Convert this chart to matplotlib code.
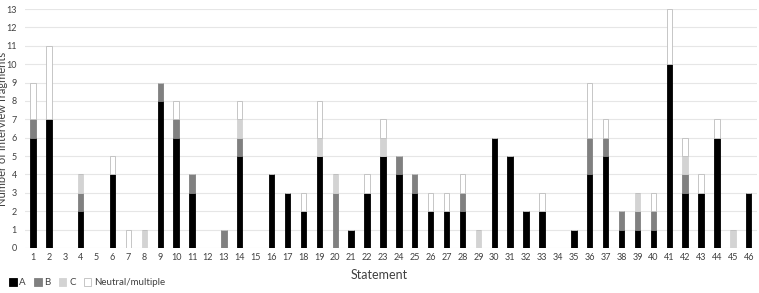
import matplotlib
matplotlib.use("Agg")
import matplotlib.pyplot as plt
import numpy as np

plt.rcParams['font.family'] = ['Lato', 'DejaVu Sans']

# statements 1..46
statements = [str(i) for i in range(1, 47)]
a_vals = [6, 7, 0, 2, 0, 4, 0, 0, 8, 6, 3, 0, 0, 5, 0, 4, 3, 2, 5, 0, 1, 3, 5,
          4, 3, 2, 2, 2, 0, 6, 5, 2, 2, 0, 1, 4, 5, 1, 1, 1, 10, 3, 3, 6, 0, 3]
b_vals = [1, 0, 0, 1, 0, 0, 0, 0, 1, 1, 1, 0, 1, 1, 0, 0, 0, 0, 0, 3, 0, 0, 0,
          1, 1, 0, 0, 1, 0, 0, 0, 0, 0, 0, 0, 2, 1, 1, 1, 1, 0, 1, 0, 0, 0, 0]
c_vals = [0, 0, 0, 1, 0, 0, 0, 1, 0, 0, 0, 0, 0, 1, 0, 0, 0, 0, 1, 1, 0, 0, 1,
          0, 0, 0, 0, 0, 1, 0, 0, 0, 0, 0, 0, 0, 0, 0, 1, 0, 0, 1, 0, 0, 1, 0]
n_vals = [2, 4, 0, 0, 0, 1, 1, 0, 0, 1, 0, 0, 0, 1, 0, 0, 0, 1, 2, 0, 0, 1, 1,
          0, 0, 1, 1, 1, 0, 0, 0, 0, 1, 0, 0, 3, 1, 0, 0, 1, 3, 1, 1, 1, 0, 0]
series_names = ["A", "B", "C", "Neutral/multiple"]

colors = ["#000000", "#808080", "#d3d3d3", "#ffffff"]
edges = ["#000000", "#808080", "#d3d3d3", "#bdbdbd"]

fig = plt.figure(figsize=(7.59, 2.93), dpi=100)
ax = fig.add_axes([0.033, 0.154, 0.964, 0.815])

x = np.arange(len(statements))
bottom = np.zeros(len(statements))
for vals, name, col, ec in zip([a_vals, b_vals, c_vals, n_vals], series_names, colors, edges):
    v = np.array(vals, dtype=float)
    ax.bar(x, v, width=0.34, bottom=bottom, color=col, edgecolor=ec,
           linewidth=0.6, label=name, zorder=3)
    bottom += v

ax.set_xlim(-0.5, len(statements) - 0.5)
ax.set_ylim(0, 13)
ax.set_yticks(range(0, 14))
ax.set_xticks(x)
ax.set_xticklabels(statements)
ax.tick_params(axis='both', length=0, labelsize=6.5, colors="#404040")
ax.tick_params(axis='y', pad=6)
ax.grid(axis='y', color="#e6e6e6", linewidth=0.8, zorder=0)
for s in ax.spines.values():
    s.set_visible(False)

fig.text(0.5, 0.063, "Statement", ha='center', va='center', fontsize=9, color="#404040")
fig.text(0.003, 0.56, "Number of interview fragments", rotation=90, ha='center',
         va='center', fontsize=8, color="#404040")

leg = fig.legend(loc='lower left', bbox_to_anchor=(0.0, -0.01), ncol=4, frameon=False,
                 fontsize=7, handlelength=0.8, handleheight=0.8, handletextpad=0.3,
                 columnspacing=0.8, labelcolor="#404040")

fig.savefig("out.png", dpi=100)
